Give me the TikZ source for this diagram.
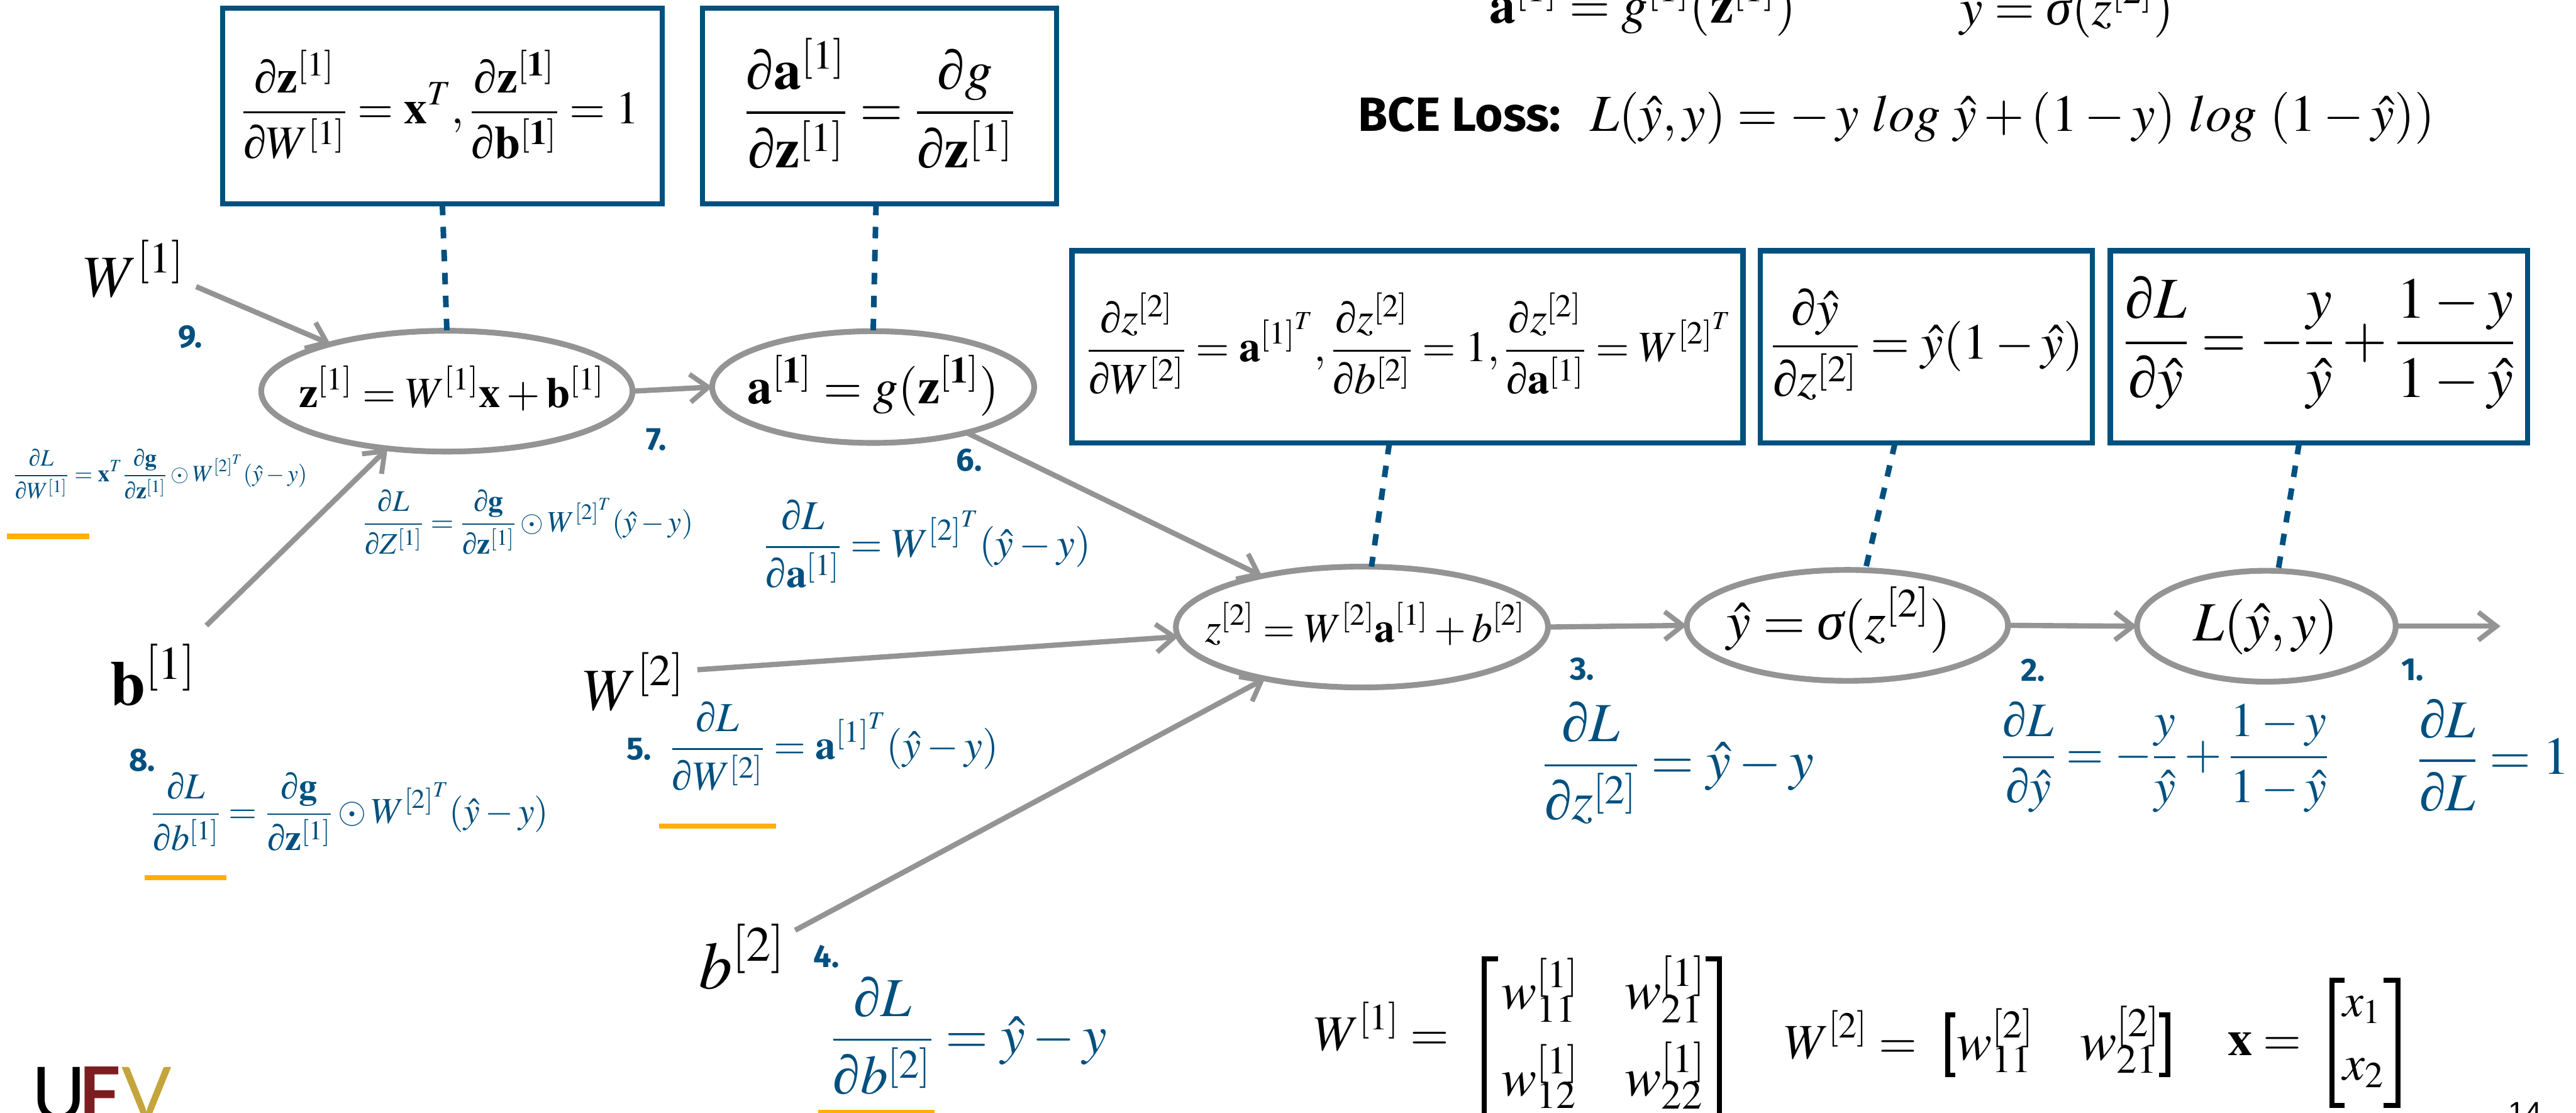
\documentclass[tikz,border=0pt]{standalone}
\usepackage{amsmath}
\usepackage{mathptmx}
\usepackage[no-math]{fontspec}
\setmainfont{Liberation Serif}
\newfontfamily\numfont{Fira Sans}
\newfontfamily\logofont{Lato}
\newfontfamily\pagefont{Liberation Sans}
\usetikzlibrary{calc,arrows.meta,shapes.geometric}
\definecolor{ublue}{HTML}{00507F}
\definecolor{ugray}{HTML}{949494}
\definecolor{uorange}{HTML}{FFB000}
\definecolor{umaroon}{HTML}{7B1E22}
\definecolor{ugold}{HTML}{C4A53C}
\newcommand{\sz}[1]{\fontsize{#1}{#1}\selectfont}
\newcommand{\fitw}[3]{\resizebox{#1pt}{!}{\sz{#2}$\displaystyle #3$}}
\newcommand{\pd}{\mbox{\itshape ∂}}
\newcommand{\sgm}{\mbox{\itshape σ}}
\newcommand{\dfr}[2]{\dfrac{\pd #1}{\pd #2}}
\newcommand{\msup}[1]{\smash{\raisebox{0pt}{$\scriptstyle #1$}}}
\newcommand{\bz}{\mathbf{z}}
\newcommand{\ba}{\mathbf{a}}
\newcommand{\bb}{\mathbf{b}}
\newcommand{\bx}{\mathbf{x}}
\newcommand{\bg}{\mathbf{g}}
\newcommand{\bon}{^{[\mathbf{1}]}}
\newcommand{\yh}{\hat{y}}
\newcommand{\one}{^{[1]}}
\newcommand{\two}{^{[2]}}
\newcommand{\oneT}{^{{[1]}^T}}
\newcommand{\twoT}{^{{[2]}^T}}
\tikzset{
  x=1pt,y=-1pt,
  every node/.style={inner sep=0pt,outer sep=0pt},
  boxn/.style={draw=ublue,line width=3.2pt,fill=white,rectangle},
  ell/.style={draw=ugray,line width=3.5pt,ellipse,fill=white},
  conn/.style={draw=ugray,line width=3.2pt,-{Straight Barb[length=11pt,width=17pt,line width=3pt]}},
  dashc/.style={draw=ublue,line width=3.4pt,dash pattern=on 7pt off 7pt},
  num/.style={text=ublue,font=\numfont\bfseries\sz{19.5}},
  uline/.style={draw=uorange,line width=3.2pt},
  brk/.style={draw=black,line width=3pt},
  bq/.style={anchor=base west,text=ublue},
  kq/.style={anchor=base west},
}
\begin{document}
\begin{tikzpicture}
\useasboundingbox (0,0) rectangle (1568,677);
% boxes
\node[boxn,minimum width=267.5pt,minimum height=119pt] (b1) at (269.25,64.5) {};
\node[boxn,minimum width=215.5pt,minimum height=119pt] (b2) at (535.25,64.5) {};
\node[boxn,minimum width=408.5pt,minimum height=117pt] (b3) at (856.7,211) {};
\node[boxn,minimum width=202pt,minimum height=117pt] (b4) at (1172.5,211) {};
\node[boxn,minimum width=254pt,minimum height=117pt] (b5) at (1411.5,211) {};
% ellipses
\node[ell,minimum width=226pt,minimum height=73.5pt] (e1) at (272,238) {};
\node[ell,minimum width=196pt,minimum height=68pt] (e2) at (531.5,235.5) {};
\node[ell,minimum width=226.5pt,minimum height=73.5pt] (e3) at (829,381.5) {};
\node[ell,minimum width=195.5pt,minimum height=67.5pt] (e4) at (1124.5,380.5) {};
\node[ell,minimum width=157.5pt,minimum height=67.5pt] (e5) at (1379.5,381) {};
% box equations
\node[kq] (t1) at (147,75.4) {\fitw{242}{28}{\dfr{\bz\one}{W\one}=\bx^T,\dfr{\bz\bon}{\bb\bon}=1}};
\node[kq] (t2) at (453,77) {\fitw{165}{32}{\dfr{\ba\one}{\bz\one}=\dfrac{\pd g}{\pd\bz\one}}};
\node[kq] (t3) at (661.5,220) {\fitw{392.5}{25}{\dfr{z\two}{W\two}=\ba^{{[1]}^T},\dfr{z\two}{b\two}=1,\dfr{z\two}{\ba\one}=W^{{[2]}^T}}};
\node[kq] (t4) at (1078,218.5) {\fitw{190}{30}{\dfr{\yh}{z\two}=\yh(1-\yh)}};
\node[kq] (t5) at (1292.5,217.5) {\fitw{238.5}{34}{\dfr{L}{\yh}=-\dfrac{y}{\yh}+\dfrac{1-y}{1-\yh}}};
% ellipse equations
\node[kq] (l1) at (182,248) {\fitw{186}{26}{\bz\one=W\one\bx+\bb\one}};
\node[kq] (l2) at (455,245.5) {\fitw{153}{31}{\ba\bon=g(\bz\bon)}};
\node[kq] (l3) at (733.5,390.6) {\fitw{195}{25}{z\two=W\two\ba\one+b\two}};
\node[kq] (l4) at (1051,389) {\fitw{136.5}{32}{\yh=\sgm(z\two)}};
\node[kq] (l5) at (1335,390) {\fitw{88}{34}{L(\yh,y)}};
% inputs
\node[kq] (w1) at (51,180.6) {\fitw{61}{38}{W\one}};
\node[kq] (bb1) at (67,429) {\fitw{52}{42}{\bb\one}};
\node[kq] (w2) at (355,432) {\fitw{61.5}{38}{W\two}};
\node[kq] (bb2) at (425.6,601.5) {\fitw{52.5}{42}{b\two}};
% connectors
\coordinate (w1s) at (119.4,174.4);
\coordinate (b1s) at (125.6,380.6);
\coordinate (w2s) at (424.5,407.5);
\coordinate (b2s) at (484,566);
\coordinate (outc) at (1522,381);
\draw[conn] (w1s) -- (e1.158);
\draw[conn] (b1s) -- (e1.224);
\draw[conn] (e1.east) -- (e2.west);
\draw[conn] (e2.-26) -- (e3.153.8);
\draw[conn] (w2s) -- (e3.183.8);
\draw[conn] (b2s) -- (e3.208);
\draw[conn] (e3.east) -- (e4.west);
\draw[conn] (e4.east) -- (e5.west);
\draw[conn] (e5.east) -- (outc);
% dashed
\draw[dashc] (b1.south) -- (e1.90);
\draw[dashc] ([xshift=-2pt]b2.south) -- (e2.90);
\draw[dashc] ([xshift=-11pt]b3.south) -- (e3.81);
\draw[dashc] ([xshift=-19pt]b4.south) -- (e4.72);
\draw[dashc] ([xshift=-12pt]b5.south) -- (e5.78);
% top equations
\node[kq] (top1) at (906.6,14) {\fitw{186.5}{33}{\ba\one=g\one(\bz\one)}};
\node[kq] (top2) at (1193,15) {\fitw{130}{32}{\yh=\sgm(z\two)}};
\node[kq] (bce) at (826.5,80) {\resizebox{123.5pt}{!}{\numfont\bfseries\sz{28}BCE Loss:}};
\node[kq] (bcq) at (968,80) {\fitw{514}{32}{L(\yh,y)=-\,y\ log\ \yh+(1-y)\ log\ (1-\yh))}};
% blue derivs
\node[bq] (d9) at (8,293) {\fitw{179}{14}{\dfr{L}{W\one}=\bx^T\dfr{\bg}{\bz\one}\odot W\twoT(\yh-y)}};
\node[bq] (d7) at (221,323.5) {\fitw{201}{18}{\dfr{L}{Z\one}=\dfr{\bg}{\bz\one}\odot W\twoT(\yh-y)}};
\node[bq] (d6) at (465,339) {\fitw{199}{25}{\dfr{L}{\ba\one}=W\twoT(\yh-y)}};
\node[bq] (d8) at (92,501) {\fitw{242}{22}{\dfr{L}{b\one}=\dfr{\bg}{\bz\one}\odot W\twoT(\yh-y)}};
\node[bq] (d5) at (408,462) {\fitw{200}{25}{\dfr{L}{W\two}=\ba\oneT(\yh-y)}};
\node[bq] (d4) at (506,641) {\fitw{168}{33}{\dfr{L}{b\two}=\yh-y}};
\node[bq] (d3) at (939,474) {\fitw{165}{33}{\dfr{L}{z\two}=\yh-y}};
\node[bq] (d2) at (1218,468) {\fitw{199.5}{29}{\dfr{L}{\yh}=-\dfrac{y}{\yh}+\dfrac{1-y}{1-\yh}}};
\node[bq] (d1) at (1471.5,471) {\fitw{92.5}{33}{\dfr{L}{L}=1}};
% numbers
\node[num] (n9) at (116,205) {9.};
\node[num] (n7) at (399.5,267.5) {7.};
\node[num] (n6) at (590,280) {6.};
\node[num] (n8) at (86.5,462.5) {8.};
\node[num] (n5) at (389,456) {5.};
\node[num] (n4) at (503,582) {4.};
\node[num] (n3) at (963,407) {3.};
\node[num] (n2) at (1237.5,408) {2.};
\node[num] (n1) at (1468.5,407.5) {1.};
% underlines
\coordinate (u1a) at (4.4,326.4); \coordinate (u1b) at (54.4,326.4);
\coordinate (u2a) at (88,534); \coordinate (u2b) at (138,534);
\coordinate (u3a) at (401,502.7); \coordinate (u3b) at (472.5,502.7);
\coordinate (u4a) at (498,677); \coordinate (u4b) at (569,677);
\draw[uline] (u1a) -- (u1b);
\draw[uline] (u2a) -- (u2b);
\draw[uline] (u3a) -- (u3b);
\draw[uline] (u4a) -- (u4b);
% matrices
\node[kq] (m1) at (800,639) {\fitw{82}{31}{W\one=}};
\draw[brk] (912,583.5) -- (903.5,583.5) -- (903.5,692) -- (912,692);
\draw[brk] (1038,583.5) -- (1046.5,583.5) -- (1046.5,692) -- (1038,692);
\node[kq] (m11) at (914,614) {\fitw{47}{33}{w_{11}^{\msup{[1]}}}};
\node[kq] (m12) at (989,614) {\fitw{49}{33}{w_{21}^{\msup{[1]}}}};
\node[kq] (m21) at (914,666.5) {\fitw{47}{33}{w_{12}^{\msup{[1]}}}};
\node[kq] (m22) at (989,666.5) {\fitw{49}{33}{w_{22}^{\msup{[1]}}}};
\node[kq] (m2) at (1086,644) {\fitw{81}{31}{W\two=}};
\draw[brk] (1190,617.5) -- (1185.5,617.5) -- (1185.5,654) -- (1190,654);
\draw[brk] (1314,617.5) -- (1319.5,617.5) -- (1319.5,654) -- (1314,654);
\node[kq] (m31) at (1191,644.7) {\fitw{47}{33}{w_{11}^{\msup{[2]}}}};
\node[kq] (m32) at (1266,644.7) {\fitw{49}{33}{w_{21}^{\msup{[2]}}}};
\node[kq] (m3) at (1356,642) {\fitw{45}{31}{\bx=}};
\draw[brk] (1427,596.5) -- (1419.5,596.5) -- (1419.5,672.5) -- (1427,672.5);
\draw[brk] (1451,596.5) -- (1459.5,596.5) -- (1459.5,672.5) -- (1451,672.5);
\node[kq] (x1) at (1426,618.5) {\fitw{23.5}{31}{x_1}};
\node[kq] (x2) at (1426,657) {\fitw{25}{31}{x_2}};
% logo and page number
\node[kq,text=black] (lgu) at (19.5,681.5) {\logofont\sz{45}U};
\node[kq,text=umaroon] (lgf) at (48,681.5) {\logofont\bfseries\sz{45}F};
\node[kq,text=ugold] (lgv) at (74,681.5) {\logofont\sz{45}V};
\node[kq] (pg) at (1527,683) {\pagefont\sz{18}14};
\end{tikzpicture}
\end{document}
